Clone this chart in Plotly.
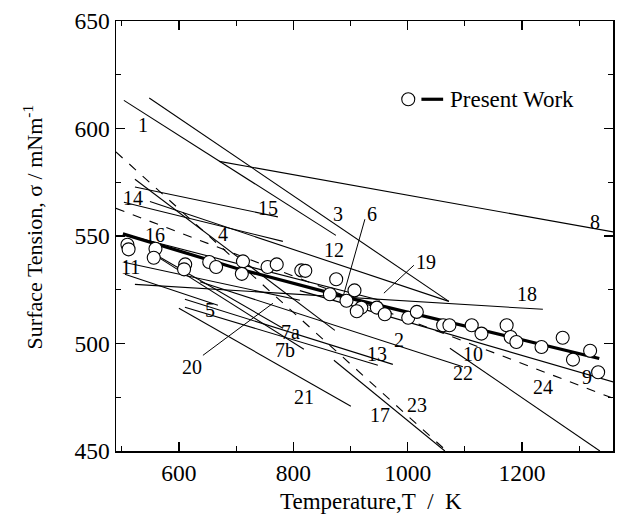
import plotly.graph_objects as go

# ---------------- data ----------------
# Present work: measured points
pw_T = [510, 512, 559, 556, 611, 609, 653, 665, 712, 710, 755, 771, 814, 821,
        875, 864, 893, 907, 919, 911, 946, 960, 1001, 1016, 1062, 1073, 1112,
        1129, 1173, 1180, 1190, 1234, 1271, 1289, 1319, 1333]
pw_S = [545.9, 543.8, 544.1, 539.9, 536.8, 534.5, 537.9, 535.6, 538.2, 532.4,
        535.6, 536.8, 534.0, 533.8, 529.9, 522.9, 519.9, 524.7, 516.7, 515.0,
        516.7, 513.6, 512.0, 514.7, 508.5, 508.5, 508.5, 504.6, 508.5, 503.0,
        500.7, 498.4, 502.7, 492.5, 496.6, 486.6]

# Present work: fitted line
fit_T = [502, 700, 900, 1100, 1335]
fit_S = [551, 535, 521, 508, 493]

# Literature lines (start / end)
lit_names = ["1", "3", "8", "15", "14", "4", "12", "18", "5", "21", "7a", "7b",
             "13", "2", "10", "9", "22", "17", "23", "24", "16", "11"]
lit_T0 = [503.8, 548.1, 670.5, 523.1, 503.8, 523.1, 549.3, 523.1, 505.6, 600.0,
          558.0, 558.0, 610.5, 610.5, 636.7, 811.5, 1073.8, 871.0, 489.9, 489.9,
          503.8, 503.8]
lit_S0 = [613.1, 614.2, 584.7, 572.8, 565.7, 576.4, 566.0, 527.5, 532.2, 516.4,
          541.5, 541.1, 516.9, 520.6, 528.7, 524.6, 497.8, 492.2, 589.1, 562.9,
          550.8, 537.8]
lit_T1 = [874.5, 1072.0, 1359.3, 773.1, 781.8, 872.7, 1072.0, 1236.4, 668.2, 900.7,
          781.8, 818.5, 947.9, 974.1, 1096.5, 1359.3, 1336.0, 1065.0, 1068.0, 1359.3,
          951.4, 811.5]
lit_S1 = [550.3, 519.6, 551.9, 558.9, 547.5, 506.1, 519.6, 515.9, 517.8, 470.8,
          507.1, 497.3, 489.9, 490.3, 489.2, 482.1, 450.0, 450.0, 450.0, 474.5,
          520.1, 520.1]
lit_dashed = ["23", "24"]

# Leader lines from labels to curves
lead_T0 = [925.2, 1010.8, 642.0]
lead_S0 = [557.8, 536.4, 494.5]
lead_T1 = [886.7, 958.4, 764.3]
lead_S1 = [521.5, 523.4, 518.7]

# Curve labels
lab_text = ["1", "3", "15", "14", "4", "16", "11", "6", "12", "19", "18", "8",
            "5", "7a", "7b", "20", "13", "2", "10", "22", "24", "9", "21", "17", "23"]
lab_T = [537.6, 878.5, 756.1, 520.1, 677.4, 558.0, 516.1, 937.4, 871.5, 1031.8,
         1208.4, 1327.3, 654.2, 795.8, 785.3, 622.2, 945.6, 985.1, 1114.5, 1096.5,
         1236.9, 1312.8, 819.1, 951.4, 1015.6]
lab_S = [601.5, 560.4, 563.2, 567.9, 551.1, 550.3, 535.4, 560.1, 543.3, 537.8,
         523.2, 556.5, 515.4, 505.3, 496.8, 489.1, 495.3, 501.5, 495.3, 486.1,
         479.8, 484.4, 475.1, 466.6, 471.3]

# Legend key position (data coords)
LEG_T_MARK = 1001
LEG_T_LINE = [1024, 1062]
LEG_T_TEXT = 1070
LEG_S = 613.6

FONT = "Liberation Serif"

fig = go.Figure()

for i, n in enumerate(lit_names):
    fig.add_trace(go.Scatter(
        x=[lit_T0[i], lit_T1[i]], y=[lit_S0[i], lit_S1[i]], mode="lines",
        line=dict(color="black", width=1.1,
                  dash="dash" if n in lit_dashed else "solid"),
        hoverinfo="skip", showlegend=False))

for i in range(len(lead_T0)):
    fig.add_trace(go.Scatter(
        x=[lead_T0[i], lead_T1[i]], y=[lead_S0[i], lead_S1[i]], mode="lines",
        line=dict(color="black", width=1), hoverinfo="skip", showlegend=False))

fig.add_trace(go.Scatter(x=fit_T, y=fit_S, mode="lines",
                         line=dict(color="black", width=3.2), showlegend=False))
fig.add_trace(go.Scatter(x=pw_T, y=pw_S, mode="markers",
                         marker=dict(symbol="circle", size=13, color="white",
                                     line=dict(color="black", width=1.1)),
                         showlegend=False))

# legend key
fig.add_trace(go.Scatter(x=[LEG_T_MARK], y=[LEG_S], mode="markers",
                         marker=dict(symbol="circle", size=13, color="white",
                                     line=dict(color="black", width=1.1)),
                         showlegend=False))
fig.add_trace(go.Scatter(x=LEG_T_LINE, y=[LEG_S, LEG_S], mode="lines",
                         line=dict(color="black", width=3.2), showlegend=False))

annotations = [dict(x=LEG_T_TEXT, y=LEG_S, xref="x", yref="y", text="Present Work",
                    showarrow=False, xanchor="left", yanchor="middle",
                    font=dict(family=FONT, size=23, color="black"))]
for t, x, y in zip(lab_text, lab_T, lab_S):
    annotations.append(dict(x=x, y=y, xref="x", yref="y", text=t, showarrow=False,
                            xanchor="center", yanchor="middle",
                            font=dict(family=FONT, size=20, color="black")))

# axis titles
annotations.append(dict(x=0.514, y=-0.118, xref="paper", yref="paper",
                        text="Temperature,T\u00a0\u00a0/\u00a0\u00a0K", showarrow=False,
                        xanchor="center", yanchor="middle",
                        font=dict(family=FONT, size=23, color="black")))
annotations.append(dict(x=-0.167, y=0.52, xref="paper", yref="paper",
                        text="Surface Tension, σ / mNm<sup>-1</sup>", showarrow=False,
                        textangle=-90, xanchor="center", yanchor="middle",
                        font=dict(family=FONT, size=22, color="black")))

axis_common = dict(showline=True, linecolor="black", linewidth=1.5, mirror="ticks",
                   ticks="inside", ticklen=9, tickwidth=1.2, tickcolor="black",
                   showgrid=False, zeroline=False, automargin=False,
                   tickfont=dict(family=FONT, size=23.5, color="black"))

fig.update_layout(
    width=618, height=514,
    margin=dict(l=116, r=5, t=21, b=63, autoexpand=False),
    paper_bgcolor="white", plot_bgcolor="white",
    annotations=annotations,
    hovermode=False,
    xaxis=dict(range=[490, 1359], tick0=0, dtick=200,
               minor=dict(dtick=100, ticks="inside", ticklen=5, tickcolor="black",
                          tickwidth=1.2),
               **axis_common),
    yaxis=dict(range=[450, 650], tick0=0, dtick=50,
               minor=dict(dtick=25, ticks="inside", ticklen=5, tickcolor="black",
                          tickwidth=1.2),
               **axis_common),
)

fig.write_html(
    "out.html",
    config={"displayModeBar": False, "staticPlot": True},
    post_script="document.documentElement.style.margin='0';"
                "document.body.style.margin='0';"
                "document.body.style.overflow='hidden';",
)
